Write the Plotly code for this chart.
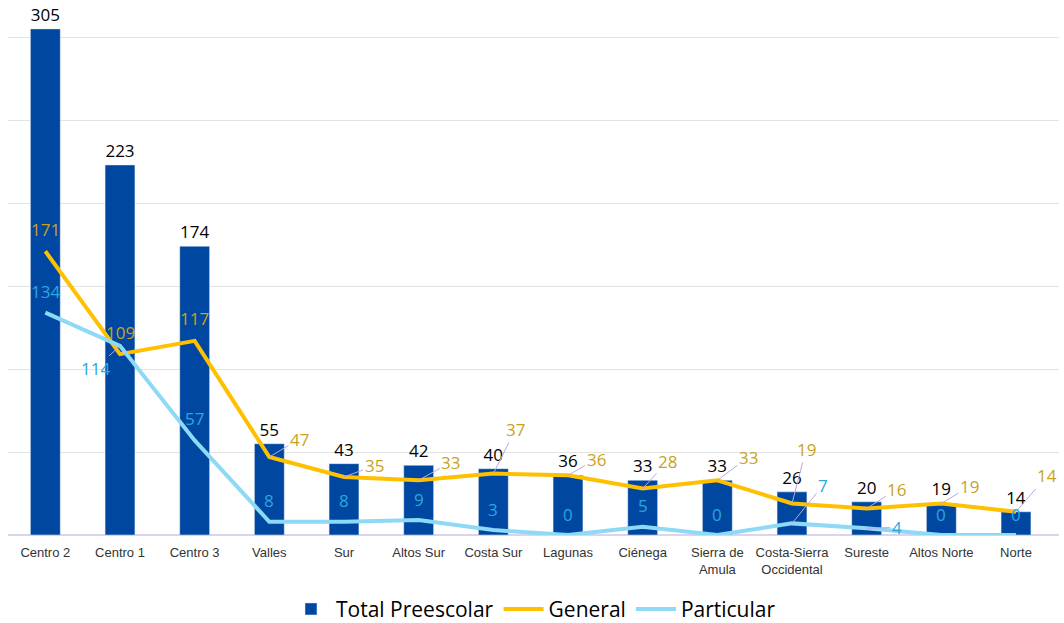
import plotly.graph_objects as go

regiones = ['Centro 2', 'Centro 1', 'Centro 3', 'Valles', 'Sur', 'Altos Sur', 'Costa Sur',
            'Lagunas', 'Ciénega', 'Sierra de<br>Amula', 'Costa-Sierra<br>Occidental',
            'Sureste', 'Altos Norte', 'Norte']
total_preescolar = [305, 223, 174, 55, 43, 42, 40, 36, 33, 33, 26, 20, 19, 14]
general = [171, 109, 117, 47, 35, 33, 37, 36, 28, 33, 19, 16, 19, 14]
particular = [134, 114, 57, 8, 8, 9, 3, 0, 5, 0, 7, 4, 0, 0]

# label offsets in px (label centre minus point) and whether a leader line is drawn
gen_off = [(0, -22), (0, -22), (0, -22), (30, -18), (30, -11), (32, -18), (22, -44),
           (28, -16), (25, -27), (31, -23), (14, -54), (30, -19), (28, -17), (31, -36)]
gen_leader = [False, False, False] + [True] * 11
par_off = [(0, -21), (-25, 23), (0, -22), (0, -21), (0, -21), (0, -21), (0, -21),
           (0, -21), (0, -21), (0, -21), (31, -38), (30, -1), (0, -21), (0, -21)]
par_leader = [False, True] + [False] * 8 + [True, True, False, False]

BLUE = '#0047A1'
GOLD = '#FFC000'
SKY = '#8DD9F6'
LEADER = '#B9A9DE'
LABEL_FONT = 'Open Sans'

fig = go.Figure()

fig.add_trace(go.Bar(
	x=regiones, y=total_preescolar, name='Total Preescolar',
	marker_color=BLUE, width=0.4,
	text=total_preescolar, textposition='outside',
	textfont=dict(family=LABEL_FONT, size=17, color='#000000'),
	cliponaxis=False
))

fig.add_trace(go.Scatter(
	x=regiones, y=general, name='General', mode='lines',
	line=dict(color=GOLD, width=4)
))

fig.add_trace(go.Scatter(
	x=regiones, y=particular, name='Particular', mode='lines',
	line=dict(color=SKY, width=4)
))


def add_labels(values, offsets, leaders, color):
	for reg, val, (dx, dy), lead in zip(regiones, values, offsets, leaders):
		if lead:
			fig.add_annotation(
				x=reg, y=val, ax=dx, ay=dy, text=str(val), showarrow=True,
				arrowhead=0, arrowwidth=1, arrowcolor=LEADER, standoff=0,
				font=dict(family=LABEL_FONT, size=17, color=color)
			)
		else:
			fig.add_annotation(
				x=reg, y=val, xshift=dx, yshift=-dy, text=str(val), showarrow=False,
				font=dict(family=LABEL_FONT, size=17, color=color)
			)


add_labels(general, gen_off, gen_leader, '#C9A21C')
add_labels(particular, par_off, par_leader, '#2AA8DE')

fig.update_layout(
	width=1064, height=623,
	margin=dict(l=8, r=5, t=4, b=88, autoexpand=False),
	plot_bgcolor='white', paper_bgcolor='white',
	bargap=0.6,
	showlegend=True,
	legend=dict(
		orientation='h', x=0.5, xanchor='center',
		yref='container', y=0.022, yanchor='middle',
		font=dict(family=LABEL_FONT, size=21, color='#000000'),
		traceorder='normal', itemwidth=40
	)
)

fig.update_yaxes(
	range=[0, 320], dtick=50, showticklabels=False,
	showgrid=True, gridcolor='#E3E3E3', gridwidth=1,
	zeroline=True, zerolinecolor='#DCD3EC', zerolinewidth=1.5
)
fig.update_xaxes(
	tickfont=dict(family='Liberation Sans', size=13, color='#333333'),
	ticks='', showline=False, automargin=False, ticklabelstandoff=8
)

# drop the default body margin so the figure fills the window
fig.write_html('out.html', config={'displayModeBar': False},
	post_script="document.body.style.margin='0px';")
